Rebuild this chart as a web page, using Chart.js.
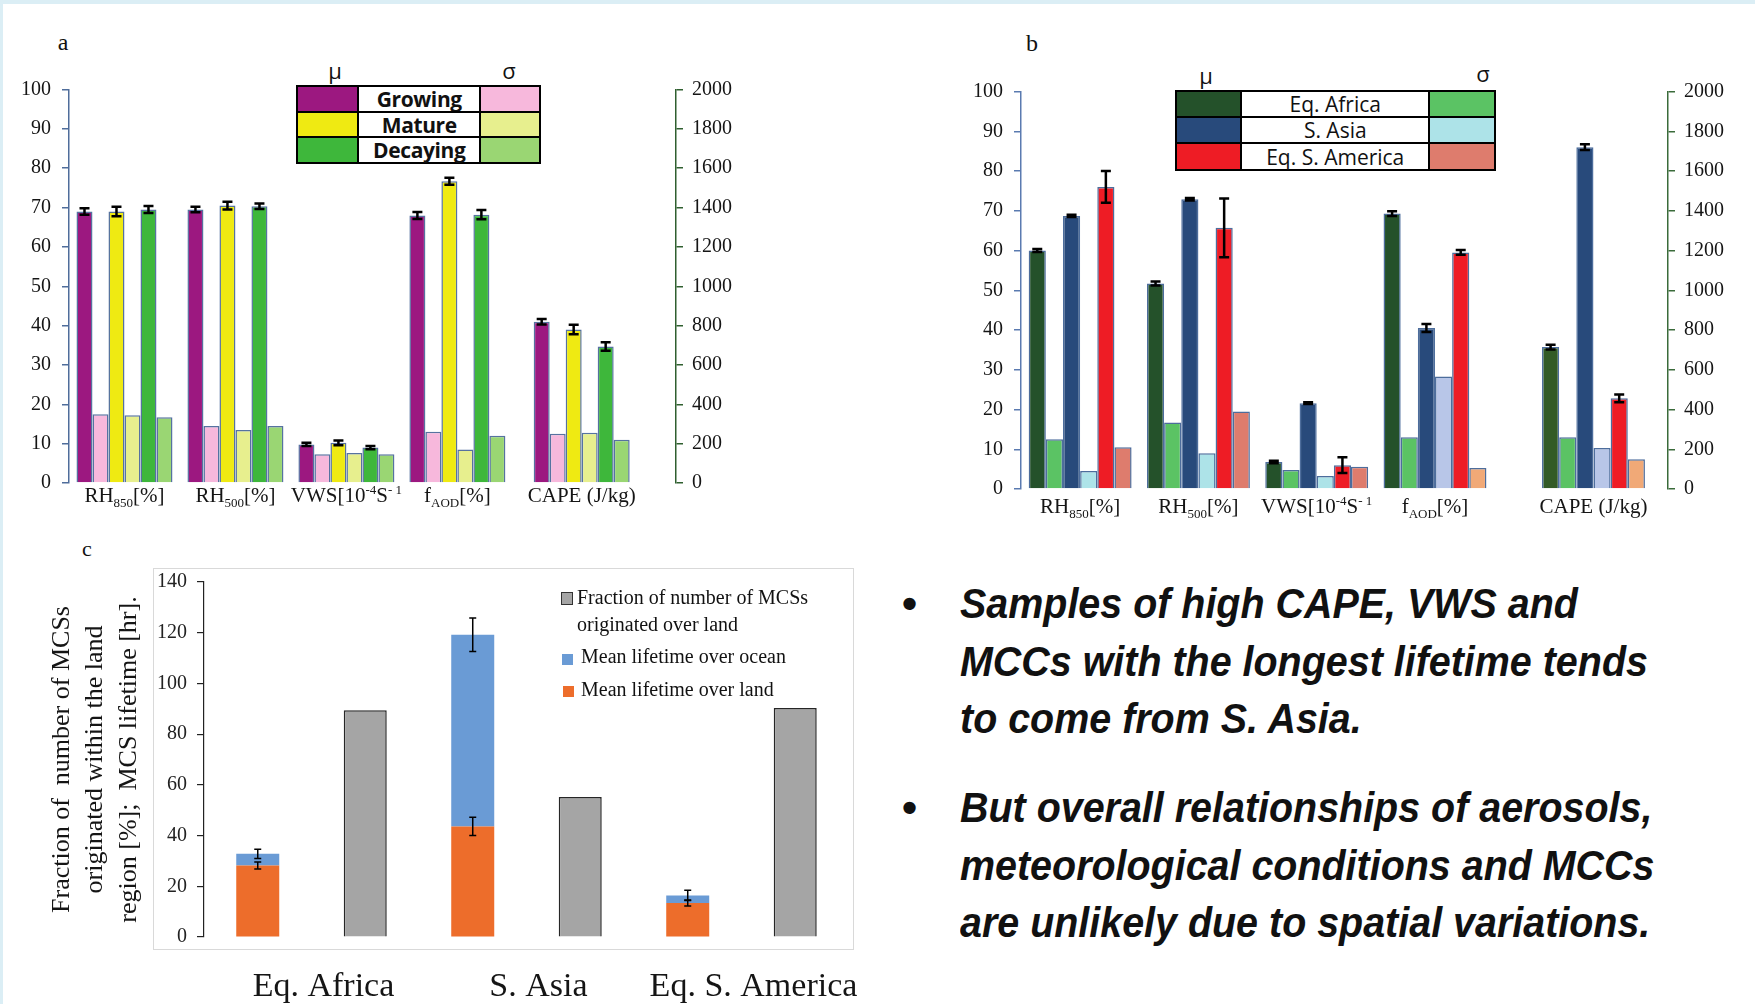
<!DOCTYPE html>
<html>
<head>
<meta charset="utf-8">
<script src="https://cdn.jsdelivr.net/npm/chart.js@4.4.1/dist/chart.umd.min.js"></script>
<style>
  html, body { margin: 0; padding: 0; background: #fff; }
  body { width: 1755px; height: 1004px; position: relative; overflow: hidden; font-family: "Liberation Serif", serif; color: #111; }
  .band-top { position: absolute; left: 0; top: 0; width: 1755px; height: 4px; background: #dbeef5; }
  .band-left { position: absolute; left: 0; top: 0; width: 3px; height: 1004px; background: #dbeef5; }
  canvas { position: absolute; }
  .ctr { position: absolute; transform: translate(-50%, -50%); line-height: 1; white-space: nowrap; }
  .tag { font: 24px "Liberation Serif", serif; }
  .greek { font: 22px "Open Sans", sans-serif; }
  .cell { position: absolute; box-sizing: border-box; border: 2.5px solid #000; background: #fff;
          display: flex; align-items: center; justify-content: center; line-height: 1; white-space: nowrap; }
  .keyA .n { font: 700 21px "Open Sans", sans-serif; letter-spacing: -0.4px; }
  .keyB .n { font: 400 21px "Open Sans", sans-serif; }
  .plotbox { position: absolute; left: 153px; top: 568px; width: 699px; height: 380px; border: 1.5px solid #d9d9d9; }
  .lg { position: absolute; font: 20px "Liberation Serif", serif; line-height: 26.7px; white-space: nowrap; }
  .sw { position: absolute; width: 11px; height: 11px; }
  .bul { position: absolute; left: 902px; font: 700 43px "Liberation Sans", sans-serif; line-height: 57.5px; }
  .txt { position: absolute; left: 960px; font: italic 700 43px "Liberation Sans", sans-serif; line-height: 57.5px;
         white-space: nowrap; transform: scaleX(0.917); transform-origin: 0 0; }
</style>
</head>
<body>
<div class="band-top"></div>
<div class="band-left"></div>

<div class="ctr tag" style="left:63px;top:42px">a</div>
<div class="ctr tag" style="left:1032px;top:43px">b</div>
<div class="ctr tag" style="left:87px;top:549px;font-size:22px">c</div>

<div class="ctr greek" style="left:335px;top:70px">μ</div>
<div class="ctr greek" style="left:509px;top:70px">σ</div>
<div class="ctr greek" style="left:1206px;top:75px">μ</div>
<div class="ctr greek" style="left:1483px;top:73px">σ</div>

<div id="keyA" class="keyA"></div>
<div id="keyB" class="keyB"></div>

<canvas id="chartA" width="770" height="500" style="left:0px;top:30px"></canvas>
<canvas id="chartB" width="825" height="500" style="left:930px;top:30px"></canvas>

<div class="plotbox"></div>
<canvas id="chartC" width="830" height="464" style="left:40px;top:540px"></canvas>
<div id="legendC"></div>

<div class="bul" style="top:575px">•</div>
<div class="txt" style="top:575px">Samples of high CAPE, VWS and<br>MCCs with the longest lifetime tends<br>to come from S. Asia.</div>
<div class="bul" style="top:779px">•</div>
<div class="txt" style="top:779px">But overall relationships of aerosols,<br>meteorological conditions and MCCs<br>are unlikely due to spatial variations.</div>

<script>
// ---- categories / tick labels ----
const paramLabels = [
  [['RH'], ['850', 'sub'], ['[%]']],
  [['RH'], ['500', 'sub'], ['[%]']],
  [['VWS[10'], ['-4', 'sup'], ['S'], ['- 1', 'sup']],
  [['f'], ['AOD', 'sub'], ['[%]']],
  [['CAPE (J/kg)']]
];
const stages = ['Growing', 'Mature', 'Decaying'];
const regions = ['Eq. Africa', 'S. Asia', 'Eq. S. America'];

// ---- panel a (left axis units; CAPE read against same scale = J/kg / 20) ----
const growingMu = [69.0, 69.5, 9.8, 68.0, 41.0];
const growingMuErr = [0.8, 0.7, 0.4, 0.9, 0.7];
const growingSigma = [17.5, 14.5, 7.3, 13.0, 12.5];
const matureMu = [69.0, 70.5, 10.2, 76.7, 39.0];
const matureMuErr = [1.2, 1.0, 0.6, 0.9, 1.2];
const matureSigma = [17.2, 13.5, 7.6, 8.5, 12.8];
const decayingMu = [69.5, 70.3, 9.0, 68.2, 34.7];
const decayingMuErr = [0.9, 0.7, 0.4, 1.2, 1.1];
const decayingSigma = [16.7, 14.5, 7.3, 12.0, 11.0];

// ---- panel b ----
const africaMu = [60.0, 51.7, 6.8, 69.3, 35.7];
const africaMuErr = [0.4, 0.5, 0.3, 0.6, 0.6];
const africaSigma = [12.5, 16.7, 4.8, 13.0, 13.0];
const asiaMu = [68.7, 72.9, 21.6, 40.5, 86.0];
const asiaMuErr = [0.3, 0.3, 0.2, 1.0, 0.7];
const asiaSigma = [4.5, 9.0, 3.3, 28.3, 10.3];
const americaMu = [76.0, 65.7, 6.0, 59.5, 22.8];
const americaMuErr = [4.0, 7.4, 2.0, 0.6, 1.0];
const americaSigma = [10.5, 19.5, 5.6, 5.3, 7.5];

// ---- panel c ----
const lifeLand = [28.2, 43.6, 13.4];
const lifeLandErr = [1.4, 3.6, 1.2];
const lifeOcean = [4.6, 75.6, 3.0];
const lifeOceanErr = [1.8, 6.6, 2.0];
const landFraction = [89.4, 55.2, 90.3];

// ---- layout (group positions on the x axis; CAPE sits a bit further right) ----
const groupPosA = [0, 1, 2, 3, 4.12];
const groupPosB = [0, 1, 2, 3, 4.34];

const colA = {
  mu: ['#9c1880', '#efea12', '#3eb73b'],
  sigma: ['#f7b8dc', '#e7ef8e', '#9ad673']
};
const colB = {
  mu: [['#24512a', '#24512a', '#24512a', '#24512a', '#335b26'], '#284a7b', '#ee1c25'],
  sigma: ['#5bc364', ['#ade3e8', '#ade3e8', '#ade3e8', '#b8c6e8', '#b8c6e8'], ['#de7c6d', '#de7c6d', '#de7c6d', '#f1a977', '#f1a977']],
  key: [['#24512a', '#5bc364'], ['#284a7b', '#ade3e8'], ['#ee1c25', '#de7c6d']]
};

Chart.defaults.font.family = '"Liberation Serif", serif';
Chart.defaults.color = '#151515';

function pts(vals, pos) { return vals.map((v, i) => ({ x: pos[i], y: v })); }

function labelPlugin(pos, baseline) {
  return {
    id: 'paramLabels',
    afterDraw(chart) {
      const ctx = chart.ctx, xs = chart.scales.x;
      const fnt = p => (p[1] ? '13px' : '21px') + ' "Liberation Serif", serif';
      ctx.save();
      ctx.fillStyle = '#151515';
      ctx.textBaseline = 'alphabetic';
      paramLabels.forEach((parts, i) => {
        let w = 0;
        parts.forEach(p => { ctx.font = fnt(p); w += ctx.measureText(p[0]).width; });
        let x = xs.getPixelForValue(pos[i]) - w / 2;
        parts.forEach(p => {
          ctx.font = fnt(p);
          const dy = p[1] === 'sub' ? 5 : p[1] === 'sup' ? -8 : 0;
          ctx.fillText(p[0], x, baseline + dy);
          x += ctx.measureText(p[0]).width;
        });
      });
      ctx.restore();
    }
  };
}

function errorPlugin(lw, cap) {
  return {
    id: 'errBars',
    afterDatasetsDraw(chart) {
      const ctx = chart.ctx, ys = chart.scales.y;
      ctx.save();
      ctx.strokeStyle = '#000';
      ctx.lineWidth = lw;
      chart.data.datasets.forEach((ds, di) => {
        if (!ds.err) return;
        chart.getDatasetMeta(di).data.forEach((bar, i) => {
          const e = ds.err[i];
          if (e == null) return;
          const h = ys.getPixelForValue(0) - ys.getPixelForValue(e);
          const x = bar.x, y = bar.y;
          ctx.beginPath();
          ctx.moveTo(x, y - h); ctx.lineTo(x, y + h);
          ctx.moveTo(x - cap, y - h); ctx.lineTo(x + cap, y - h);
          ctx.moveTo(x - cap, y + h); ctx.lineTo(x + cap, y + h);
          ctx.stroke();
        });
      });
      ctx.restore();
    }
  };
}

function paramChart(id, o) {
  const tickFont = { size: 20 };
  return new Chart(document.getElementById(id), {
    type: 'bar',
    data: { datasets: o.datasets },
    options: {
      responsive: false, animation: false, devicePixelRatio: 1,
      layout: { padding: { top: o.padTop, left: 0, right: 0, bottom: 0 } },
      plugins: { legend: { display: false }, tooltip: { enabled: false } },
      datasets: { bar: { categoryPercentage: o.catPct, barPercentage: 1, borderWidth: 1.5, borderColor: o.barEdge } },
      scales: {
        x: {
          type: 'linear', min: -0.5, max: 4.97, offset: false, bounds: 'data',
          grid: { display: false }, border: { display: false }, ticks: { display: false },
          afterBuildTicks: s => { s.ticks = o.pos.map(v => ({ value: v })); },
          afterFit: s => { s.height = o.xH; }
        },
        y: {
          min: 0, max: 100,
          ticks: { stepSize: 10, font: tickFont, padding: 11, color: '#151515' },
          grid: { drawOnChartArea: false, tickLength: 7, color: o.leftColor, lineWidth: 1.5 },
          border: { color: o.leftColor, width: 1.5 },
          afterFit: s => { s.width = o.yW; }
        },
        y2: {
          display: true, position: 'right', min: 0, max: 2000,
          ticks: { stepSize: 200, font: tickFont, padding: 9, color: '#151515', callback: v => String(v) },
          grid: { drawOnChartArea: false, tickLength: 7, color: o.rightColor, lineWidth: 1.5 },
          border: { color: o.rightColor, width: 1.5 },
          afterFit: s => { s.width = o.y2W; }
        }
      }
    },
    plugins: [errorPlugin(2.5, 5), labelPlugin(o.pos, o.labelY)]
  });
}

// ---- panel a ----
const stageMu = [growingMu, matureMu, decayingMu];
const stageErr = [growingMuErr, matureMuErr, decayingMuErr];
const stageSigma = [growingSigma, matureSigma, decayingSigma];
const dsA = [];
stages.forEach((s, k) => {
  dsA.push({ label: s + ' μ', data: pts(stageMu[k], groupPosA), backgroundColor: colA.mu[k], err: stageErr[k] });
  dsA.push({ label: s + ' σ', data: pts(stageSigma[k], groupPosA), backgroundColor: colA.sigma[k] });
});
paramChart('chartA', {
  datasets: dsA, pos: groupPosA, padTop: 59.5, yW: 69, y2W: 94, xH: 47, labelY: 472,
  catPct: 0.865, barEdge: '#5672a0', leftColor: '#4f6d9b', rightColor: '#2f5f2f'
});

// ---- panel b ----
const regionMu = [africaMu, asiaMu, americaMu];
const regionErr = [africaMuErr, asiaMuErr, americaMuErr];
const regionSigma = [africaSigma, asiaSigma, americaSigma];
const dsB = [];
regions.forEach((r, k) => {
  dsB.push({ label: r + ' μ', data: pts(regionMu[k], groupPosB), backgroundColor: colB.mu[k], err: regionErr[k] });
  dsB.push({ label: r + ' σ', data: pts(regionSigma[k], groupPosB), backgroundColor: colB.sigma[k] });
});
paramChart('chartB', {
  datasets: dsB, pos: groupPosB, padTop: 61.5, yW: 91, y2W: 87, xH: 41, labelY: 483,
  catPct: 0.87, barEdge: '#4d6d9c', leftColor: '#5a7ab0', rightColor: '#3a6b3a'
});

// ---- legend keys a / b (cells share their borders) ----
function keyCells(el, names, cols, xs, ys) {
  let html = '';
  names.forEach((n, k) => {
    const top = ys[k], h = ys[k + 1] - ys[k] + 2.5;
    const cell = (c, style, txt) =>
      `<div class="cell${txt ? ' n' : ''}" style="left:${xs[c]}px;top:${top}px;width:${xs[c + 1] - xs[c] + 2.5}px;height:${h}px;${style}">${txt}</div>`;
    html += cell(0, 'background:' + cols[k][0], '') + cell(1, '', n) + cell(2, 'background:' + cols[k][1], '');
  });
  el.innerHTML = html;
}
keyCells(document.getElementById('keyA'), stages, stages.map((s, k) => [colA.mu[k], colA.sigma[k]]),
  [296, 357, 479, 538], [85, 111, 136, 161]);
keyCells(document.getElementById('keyB'), regions, colB.key,
  [1175, 1240, 1428, 1493], [89.5, 116, 142, 168.5]);

// ---- panel c ----
new Chart(document.getElementById('chartC'), {
  type: 'bar',
  data: {
    labels: regions,
    datasets: [
      { label: 'Mean lifetime over land', data: lifeLand, backgroundColor: '#ed6d2b', stack: 'life', err: lifeLandErr },
      { label: 'Mean lifetime over ocean', data: lifeOcean, backgroundColor: '#6a9bd5', stack: 'life', err: lifeOceanErr },
      { label: 'Fraction of number of MCSs originated over land', data: landFraction, backgroundColor: '#a5a5a5',
        borderColor: '#262626', borderWidth: 1.5, stack: 'frac' }
    ]
  },
  options: {
    responsive: false, animation: false, devicePixelRatio: 1,
    layout: { padding: { top: 42, right: 16, left: 0, bottom: 0 } },
    plugins: { legend: { display: false }, tooltip: { enabled: false } },
    datasets: { bar: { categoryPercentage: 1, barPercentage: 0.4 } },
    scales: {
      x: {
        stacked: true,
        grid: { display: false }, border: { display: false },
        ticks: { font: { size: 34 }, color: '#151515', padding: 22, labelOffset: 12 },
        afterFit: s => { s.height = 67; }
      },
      y: {
        stacked: true, min: 0, max: 140,
        ticks: { stepSize: 20, font: { size: 20 }, padding: 10, color: '#222' },
        grid: { drawOnChartArea: false, tickLength: 7, color: '#222', lineWidth: 1.2 },
        border: { color: '#222', width: 1.2 },
        title: {
          display: true,
          text: ['Fraction of  number of MCSs', 'originated within the land', 'region [%];  MCS lifetime [hr].'],
          font: { size: 26, lineHeight: 1.29 }, color: '#151515', padding: { top: 5, bottom: 0 }
        },
        afterFit: s => { s.width = 164; }
      }
    }
  },
  plugins: [errorPlugin(1.5, 3.5)]
});

// legend c
document.getElementById('legendC').innerHTML =
  '<div class="sw" style="left:561px;top:592px;width:10px;height:11px;background:#a5a5a5;border:1.5px solid #333"></div>' +
  '<div class="lg" style="left:577px;top:584px">Fraction of number of MCSs<br>originated over land</div>' +
  '<div class="sw" style="left:562px;top:654px;background:#6a9bd5"></div>' +
  '<div class="lg" style="left:581px;top:643px">Mean lifetime over ocean</div>' +
  '<div class="sw" style="left:563px;top:686px;background:#ed6d2b"></div>' +
  '<div class="lg" style="left:581px;top:676px">Mean lifetime over land</div>';
</script>
</body>
</html>
